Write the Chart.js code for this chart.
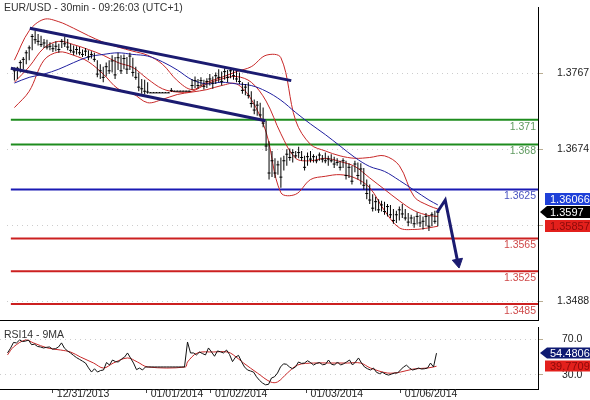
<!DOCTYPE html>
<html>
<head>
<meta charset="utf-8">
<script src="https://cdn.jsdelivr.net/npm/chart.js@4.4.0/dist/chart.umd.min.js"></script>
<style>
  html, body { margin: 0; padding: 0; background: #fff; }
  #wrap { position: relative; width: 590px; height: 400px; overflow: hidden; }
  canvas { position: absolute; left: 0; }
  #priceChart { top: 0; }
  #rsiChart { top: 327px; }
  .title { position: absolute; left: 4px; font: 10.5px "Liberation Sans", Arial, sans-serif; color: #333; white-space: nowrap; }
</style>
</head>
<body>
<div id="wrap">
  <canvas id="priceChart" width="590" height="327"></canvas>
  <canvas id="rsiChart" width="590" height="73"></canvas>
  <div class="title" style="top:1px">EUR/USD - 30min - 09:26:03 (UTC+1)</div>
  <div class="title" style="top:328px">RSI14 - 9MA</div>
</div>
<script>
// ----------------------------------------------------------
// data (x = bar index, one bar per 30 min candle)
const barHigh = [
  1.3774, 1.3775, 1.3783, 1.3787, 1.3795, 1.3801, 1.3815, 1.3819, 1.3815, 1.3813,
  1.3809, 1.3808, 1.3805, 1.3803, 1.3806, 1.3803, 1.3809, 1.3812, 1.3809, 1.3803,
  1.3801, 1.3800, 1.3799, 1.3796, 1.3798, 1.3795, 1.3794, 1.3792, 1.3783, 1.3778,
  1.3775, 1.3780, 1.3783, 1.3789, 1.3787, 1.3792, 1.3789, 1.3790, 1.3787, 1.3792,
  1.3786, 1.3775, 1.3768, 1.3760, 1.3759, 1.3756, 1.3744, 1.3744, 1.3744, 1.3744,
  1.3744, 1.3744, 1.3744, 1.3749, 1.3746, 1.3746, 1.3746, 1.3746, 1.3746, 1.3746,
  1.3760, 1.3763, 1.3760, 1.3762, 1.3759, 1.3761, 1.3766, 1.3763, 1.3768, 1.3772,
  1.3769, 1.3773, 1.3771, 1.3774, 1.3772, 1.3771, 1.3768, 1.3756, 1.3754, 1.3756,
  1.3745, 1.3735, 1.3733, 1.3731, 1.3725, 1.3709, 1.3684, 1.3672, 1.3663, 1.3660,
  1.3664, 1.3666, 1.3674, 1.3675, 1.3674, 1.3672, 1.3677, 1.3672, 1.3666, 1.3670,
  1.3672, 1.3668, 1.3666, 1.3670, 1.3667, 1.3670, 1.3666, 1.3668, 1.3665, 1.3663,
  1.3660, 1.3663, 1.3660, 1.3657, 1.3654, 1.3660, 1.3658, 1.3657, 1.3651, 1.3637,
  1.3631, 1.3619, 1.3616, 1.3613, 1.3611, 1.3610, 1.3607, 1.3606, 1.3601, 1.3599,
  1.3604, 1.3607, 1.3601, 1.3596, 1.3594, 1.3592, 1.3597, 1.3594, 1.3592, 1.3596,
  1.3593, 1.3597, 1.3599, 1.3598
];
const barLow = [
  1.3758, 1.3760, 1.3768, 1.3772, 1.3778, 1.3783, 1.3795, 1.3803, 1.3801, 1.3799,
  1.3798, 1.3796, 1.3795, 1.3793, 1.3794, 1.3792, 1.3798, 1.3799, 1.3795, 1.3792,
  1.3789, 1.3790, 1.3789, 1.3787, 1.3788, 1.3783, 1.3785, 1.3781, 1.3762, 1.3760,
  1.3756, 1.3763, 1.3766, 1.3768, 1.3760, 1.3771, 1.3766, 1.3772, 1.3766, 1.3771,
  1.3763, 1.3759, 1.3745, 1.3742, 1.3741, 1.3742, 1.3743, 1.3743, 1.3743, 1.3743,
  1.3743, 1.3743, 1.3743, 1.3744, 1.3745, 1.3745, 1.3745, 1.3745, 1.3745, 1.3745,
  1.3747, 1.3749, 1.3748, 1.3751, 1.3747, 1.3749, 1.3752, 1.3748, 1.3754, 1.3756,
  1.3752, 1.3759, 1.3756, 1.3761, 1.3759, 1.3756, 1.3754, 1.3742, 1.3740, 1.3736,
  1.3725, 1.3717, 1.3715, 1.3713, 1.3701, 1.3672, 1.3637, 1.3640, 1.3639, 1.3643,
  1.3627, 1.3648, 1.3654, 1.3660, 1.3658, 1.3663, 1.3663, 1.3660, 1.3648, 1.3654,
  1.3658, 1.3658, 1.3657, 1.3660, 1.3658, 1.3657, 1.3654, 1.3658, 1.3651, 1.3654,
  1.3648, 1.3651, 1.3637, 1.3639, 1.3631, 1.3646, 1.3637, 1.3631, 1.3625, 1.3613,
  1.3607, 1.3598, 1.3599, 1.3596, 1.3598, 1.3594, 1.3592, 1.3590, 1.3583, 1.3584,
  1.3587, 1.3590, 1.3587, 1.3580, 1.3583, 1.3578, 1.3582, 1.3579, 1.3576, 1.3580,
  1.3574, 1.3580, 1.3583, 1.3580
];
const barClose = [
  1.3770, 1.3773, 1.3780, 1.3784, 1.3792, 1.3798, 1.3812, 1.3808, 1.3806, 1.3802,
  1.3804, 1.3799, 1.3800, 1.3797, 1.3800, 1.3796, 1.3806, 1.3803, 1.3799, 1.3795,
  1.3793, 1.3796, 1.3792, 1.3790, 1.3794, 1.3787, 1.3790, 1.3784, 1.3766, 1.3770,
  1.3762, 1.3775, 1.3770, 1.3782, 1.3765, 1.3786, 1.3770, 1.3785, 1.3772, 1.3788,
  1.3768, 1.3762, 1.3750, 1.3748, 1.3745, 1.3744, 1.3743, 1.3743, 1.3743, 1.3743,
  1.3743, 1.3743, 1.3743, 1.3746, 1.3745, 1.3745, 1.3745, 1.3745, 1.3745, 1.3745,
  1.3752, 1.3758, 1.3752, 1.3758, 1.3751, 1.3757, 1.3760, 1.3755, 1.3764, 1.3762,
  1.3757, 1.3769, 1.3762, 1.3770, 1.3764, 1.3760, 1.3757, 1.3746, 1.3750, 1.3740,
  1.3730, 1.3722, 1.3728, 1.3716, 1.3706, 1.3678, 1.3645, 1.3660, 1.3645, 1.3655,
  1.3640, 1.3660, 1.3668, 1.3664, 1.3670, 1.3666, 1.3670, 1.3664, 1.3652, 1.3665,
  1.3662, 1.3665, 1.3660, 1.3667, 1.3662, 1.3660, 1.3662, 1.3660, 1.3656, 1.3658,
  1.3652, 1.3660, 1.3642, 1.3652, 1.3635, 1.3656, 1.3642, 1.3650, 1.3630, 1.3620,
  1.3612, 1.3602, 1.3610, 1.3600, 1.3606, 1.3598, 1.3604, 1.3594, 1.3587, 1.3594,
  1.3600, 1.3595, 1.3590, 1.3585, 1.3590, 1.3583, 1.3592, 1.3584, 1.3586, 1.3592,
  1.3580, 1.3594, 1.3586, 1.3597
];

// bollinger bands and the blue moving average, sampled every 5 bars
const bandIdx = [0, 5, 10, 15, 20, 25, 30, 35, 40, 45, 50, 55, 60, 65, 70, 75, 80, 85, 90, 95,
  100, 105, 110, 115, 120, 125, 130, 135, 140, 143];
const bandUpper = [1.3783, 1.3819, 1.3833, 1.3830, 1.3822, 1.3813, 1.3805, 1.3799, 1.3794, 1.3789,
  1.3778, 1.3758, 1.3747, 1.3756, 1.3762, 1.3769, 1.3775, 1.3789, 1.3786, 1.3709,
  1.3680, 1.3672, 1.3666, 1.3663, 1.3664, 1.3666, 1.3654, 1.3616, 1.3605, 1.3601];
const bandMiddle = [1.3756, 1.3775, 1.3798, 1.3806, 1.3802, 1.3796, 1.3789, 1.3780, 1.3774, 1.3760,
  1.3748, 1.3744, 1.3745, 1.3754, 1.3760, 1.3763, 1.3756, 1.3733, 1.3693, 1.3663,
  1.3660, 1.3663, 1.3659, 1.3653, 1.3639, 1.3625, 1.3611, 1.3599, 1.3593, 1.3592];
const bandLower = [1.3725, 1.3745, 1.3783, 1.3793, 1.3789, 1.3781, 1.3766, 1.3748, 1.3742, 1.3731,
  1.3735, 1.3741, 1.3744, 1.3747, 1.3752, 1.3754, 1.3735, 1.3695, 1.3621, 1.3619,
  1.3637, 1.3641, 1.3643, 1.3639, 1.3627, 1.3599, 1.3578, 1.3576, 1.3578, 1.3580];
const blueMa = [1.3755, 1.3762, 1.3766, 1.3772, 1.3780, 1.3787, 1.3790, 1.3792, 1.3790, 1.3788,
  1.3781, 1.3771, 1.3759, 1.3754, 1.3756, 1.3754, 1.3752, 1.3745, 1.3734, 1.3719,
  1.3705, 1.3692, 1.3678, 1.3664, 1.3653, 1.3647, 1.3636, 1.3624, 1.3612, 1.3606];

// hand drawn objects
const channelUpperIdx = [5.2, 93.5];
const channelUpperVal = [1.3822, 1.3758];
const channelLowerIdx = [-1.2, 84.8];
const channelLowerVal = [1.3773, 1.3709];
const arrowIdx = [142.8, 145.5, 149.9];
const arrowVal = [1.3597, 1.3612, 1.3533];
const arrowHeadIdx = 149.8;
const arrowHeadVal = 1.3536;

// horizontal levels
const levelValues = [1.371, 1.368, 1.3625, 1.3565, 1.3525, 1.3485];
const levelLabels = ["1.371", "1.368", "1.3625", "1.3565", "1.3525", "1.3485"];
const levelColors = ["#1e8c1e", "#1e8c1e", "#1a1ab4", "#cc2020", "#cc2020", "#cc2020"];
const levelTextColors = ["#5f9a5f", "#5f9a5f", "#4a55c0", "#cf4a4a", "#cf4a4a", "#cf4a4a"];
const levelStartIdx = -1.2;

// axes
const priceTicks = [1.3488, 1.3581, 1.3674, 1.3767];
const rsiTicks = [30, 70];
const dateTickIdx = [15.1, 46.4, 67.8, 99.7, 131.1];
const dateLabels = ["12/31/2013", "01/01/2014", "01/02/2014", "01/03/2014", "01/06/2014"];

// last value tags
const priceTagValues = [1.36066, 1.3597, 1.35857];
const rsiTagValues = [54.4806, 39.7709];

// RSI panel
const rsiValues = [
  54.7, 60, 66.5, 65.9, 69.2, 67.5, 68, 69.2, 64, 64.5,
  62, 61.4, 60.3, 61, 61.4, 59, 59.5, 61.4, 66, 60,
  57, 54.7, 52, 49.5, 47.5, 45.5, 43.4, 38, 33.3, 37,
  33.3, 35, 35.6, 44, 41.2, 46.8, 45, 44.6, 48, 50,
  54.7, 49.1, 43.4, 36, 37.8, 35.6, 39, 39, 39, 39,
  39, 39, 39, 39, 39, 39, 39, 39, 39, 39,
  67, 54.7, 54.7, 52.5, 55.8, 54, 52.5, 60.3, 55.8, 51,
  57, 56, 54.7, 58, 53, 45, 50, 52, 45, 39,
  35.6, 34.5, 33.3, 28, 24, 21, 19, 19.5, 26.6, 28,
  32.2, 39, 42.5, 42, 39, 37, 39, 44.6, 43, 43.4,
  46, 44, 41.2, 43, 44, 41.5, 42, 46.8, 42, 41.2,
  44.6, 41.2, 42.5, 44.5, 46.8, 41.2, 44.6, 49.1, 43.4, 39,
  37, 35.6, 37.8, 33, 31.5, 33, 31, 29.9, 31, 32.2,
  32.2, 35.6, 39, 41, 37.8, 35.6, 36.5, 37.8, 36.7, 37,
  37.8, 43.4, 39, 54.5
];
const rsiMaIdx = [0, 2, 6, 8.7, 13.3, 17.7, 21, 24.3, 28.7, 32, 35.3, 40, 43.3, 46.7, 59.3, 60,
  63.3, 68.7, 73.3, 75.3, 78.7, 83.3, 87.7, 90, 93.3, 96.7, 102, 107.7, 113.3, 117.7,
  121, 126.7, 131, 135.3, 140, 143];
const rsiMaVals = [52.5, 61.4, 69.2, 65.9, 60.3, 58.0, 55.8, 50.2, 43.4, 37.8, 43.4, 49.1, 44.6, 39.0, 39.0, 44.6,
  54.7, 55.8, 55.8, 52.5, 43.4, 32.2, 22.2, 22.2, 32.2, 41.2, 43.4, 43.4, 43.4, 43.4,
  37.8, 32.2, 33.3, 36.7, 37.8, 39.8];

// ----------------------------------------------------------
const FONT = '"Liberation Sans", Arial, sans-serif';
const xMin = -2.5;
const xMax = 176.8333;
const NAVY = "#1b1b70";

function pairs(xs, ys) {
  return xs.map((x, i) => ({ x: x, y: ys[i] }));
}

// ----------------------------------------------------------
// price panel datasets (first one is drawn on top)
const priceDatasets = [
  { data: pairs(arrowIdx, arrowVal), borderColor: NAVY, borderWidth: 3 },
  {
    data: [{ x: arrowHeadIdx, y: arrowHeadVal }], showLine: false, pointStyle: "triangle",
    pointRadius: 6, pointRotation: 169, backgroundColor: NAVY, borderColor: NAVY, borderWidth: 1
  },
  { data: pairs(channelUpperIdx, channelUpperVal), borderColor: NAVY, borderWidth: 3 },
  { data: pairs(channelLowerIdx, channelLowerVal), borderColor: NAVY, borderWidth: 3 },
  // close ticks of the OHLC bars
  {
    data: barClose.map((c, i) => ({ x: i, y: c })), showLine: false, pointStyle: "line",
    pointRadius: 1.5, borderColor: "#000", borderWidth: 1
  },
  {
    type: "bar",
    data: barHigh.map((h, i) => ({ x: i, y: [barLow[i], h] })),
    backgroundColor: "#000", borderWidth: 0, barThickness: 1, inflateAmount: 0
  },
  { data: pairs(bandIdx, blueMa), borderColor: "#2020a0", borderWidth: 1, tension: 0.35 },
  { data: pairs(bandIdx, bandUpper), borderColor: "#c82828", borderWidth: 1, tension: 0.35 },
  { data: pairs(bandIdx, bandMiddle), borderColor: "#c82828", borderWidth: 1, tension: 0.35 },
  { data: pairs(bandIdx, bandLower), borderColor: "#c82828", borderWidth: 1, tension: 0.35 },
];
levelValues.forEach((v, i) => {
  priceDatasets.push({
    data: [{ x: levelStartIdx, y: v }, { x: xMax, y: v }],
    borderColor: levelColors[i], borderWidth: 2
  });
});

// ----------------------------------------------------------
// price tags on the right axis
function drawTags(chart, tags, gap, h) {
  const ctx = chart.ctx;
  const ys = chart.scales.y;
  const right = chart.chartArea.right;
  const pos = tags.map((t) => ys.getPixelForValue(t.value));
  const a = tags.findIndex((t) => t.arrow);
  for (let j = a - 1; j >= 0; j--) pos[j] = Math.min(pos[j], pos[j + 1] - gap);
  for (let j = a + 1; j < tags.length; j++) pos[j] = Math.max(pos[j], pos[j - 1] + gap);
  ctx.save();
  ctx.font = "11px " + FONT;
  ctx.textBaseline = "middle";
  tags.forEach((t, k) => {
    const y = Math.round(pos[k]);
    const top = y - h / 2;
    const x0 = right + (t.arrow ? 9 : 7);
    ctx.fillStyle = t.bg;
    ctx.beginPath();
    if (t.arrow) {
      ctx.moveTo(right + 2, y);
      ctx.lineTo(x0, top);
      ctx.lineTo(590, top);
      ctx.lineTo(590, top + h);
      ctx.lineTo(x0, top + h);
      ctx.closePath();
    } else {
      ctx.rect(x0, top, 590 - x0, h);
    }
    ctx.fill();
    ctx.fillStyle = t.fg;
    ctx.textAlign = "left";
    ctx.fillText(String(t.value), right + 12, y + 0.5);
  });
  ctx.restore();
}

const pricePanelPlugin = {
  id: "pricePanel",
  afterDatasetsDraw(chart) {
    const ctx = chart.ctx;
    const ys = chart.scales.y;
    const area = chart.chartArea;
    ctx.save();
    ctx.font = "10.5px " + FONT;
    ctx.textAlign = "right";
    ctx.textBaseline = "middle";
    levelValues.forEach((v, i) => {
      ctx.fillStyle = levelTextColors[i];
      ctx.fillText(levelLabels[i], area.right - 2, ys.getPixelForValue(v) + 7);
    });
    // bottom frame line of the price panel
    ctx.strokeStyle = "#000";
    ctx.lineWidth = 1;
    ctx.beginPath();
    ctx.moveTo(0, area.bottom + 0.5);
    ctx.lineTo(area.right, area.bottom + 0.5);
    ctx.stroke();
    ctx.restore();
  },
  afterDraw(chart) {
    drawTags(chart, [
      { value: priceTagValues[0], bg: "#1e40d8", fg: "#fff", arrow: false },
      { value: priceTagValues[1], bg: "#000", fg: "#fff", arrow: true },
      { value: priceTagValues[2], bg: "#e3201c", fg: "#8c0a0a", arrow: false },
    ], 13.5, 12);
  },
};

const rsiPanelPlugin = {
  id: "rsiPanel",
  afterDraw(chart) {
    drawTags(chart, [
      { value: rsiTagValues[0], bg: "#0e1a72", fg: "#fff", arrow: true },
      { value: rsiTagValues[1], bg: "#e3201c", fg: "#8c0a0a", arrow: false },
    ], 11.5, 11);
  },
};

// ----------------------------------------------------------
const gridStyle = { color: "#cccccc", tickColor: "#b9ad92", tickLength: 5, lineWidth: 1 };
const borderStyle = { color: "#000", width: 1, dash: [1, 4] };
const tickFont = { family: FONT, size: 10.5 };

new Chart(document.getElementById("priceChart"), {
  type: "line",
  data: { datasets: priceDatasets },
  options: {
    responsive: false,
    animation: false,
    devicePixelRatio: 1,
    layout: { padding: { left: 0, right: 0, top: 0, bottom: 1 } },
    elements: { point: { radius: 0 }, line: { borderWidth: 1 } },
    plugins: { legend: { display: false }, tooltip: { enabled: false } },
    scales: {
      x: { type: "linear", min: xMin, max: xMax, offset: false, grid: { offset: false }, display: false },
      y: {
        type: "linear", position: "right", min: 1.34653, max: 1.3848,
        afterBuildTicks: (s) => { s.ticks = priceTicks.map((v) => ({ value: v })); },
        afterFit: (s) => { s.width = 52; s.paddingTop = 0; s.paddingBottom = 0; },
        grid: gridStyle,
        border: borderStyle,
        ticks: { color: "#222", padding: 14, font: tickFont, callback: (v) => v.toFixed(4) },
      },
    },
  },
  plugins: [pricePanelPlugin],
});

new Chart(document.getElementById("rsiChart"), {
  type: "line",
  data: {
    datasets: [
      { data: rsiValues.map((v, i) => ({ x: i, y: v })), borderColor: "#111", borderWidth: 1 },
      { data: pairs(rsiMaIdx, rsiMaVals), borderColor: "#c82828", borderWidth: 1, tension: 0.35 },
    ],
  },
  options: {
    responsive: false,
    animation: false,
    devicePixelRatio: 1,
    layout: { padding: 0 },
    elements: { point: { radius: 0 } },
    plugins: { legend: { display: false }, tooltip: { enabled: false } },
    scales: {
      x: {
        type: "linear", position: "bottom", min: xMin, max: xMax,
        afterBuildTicks: (s) => { s.ticks = dateTickIdx.map((v) => ({ value: v })); },
        afterFit: (s) => { s.height = 11; s.paddingLeft = 0; s.paddingRight = 0; },
        grid: { drawOnChartArea: false, tickLength: 4, color: "#444", tickColor: "#444" },
        border: { color: "#000", width: 1 },
        ticks: {
          align: "start", labelOffset: 4, padding: -5, maxRotation: 0, autoSkip: false,
          color: "#222", font: tickFont, callback: (v, i) => dateLabels[i],
        },
      },
      y: {
        type: "linear", position: "right", min: 14.3, max: 83.8,
        afterBuildTicks: (s) => { s.ticks = rsiTicks.map((v) => ({ value: v })); },
        afterFit: (s) => { s.width = 52; s.paddingTop = 0; s.paddingBottom = 0; },
        grid: gridStyle,
        border: borderStyle,
        ticks: { color: "#222", padding: 19, font: tickFont, callback: (v) => v.toFixed(1) },
      },
    },
  },
  plugins: [rsiPanelPlugin],
});
</script>
</body>
</html>
